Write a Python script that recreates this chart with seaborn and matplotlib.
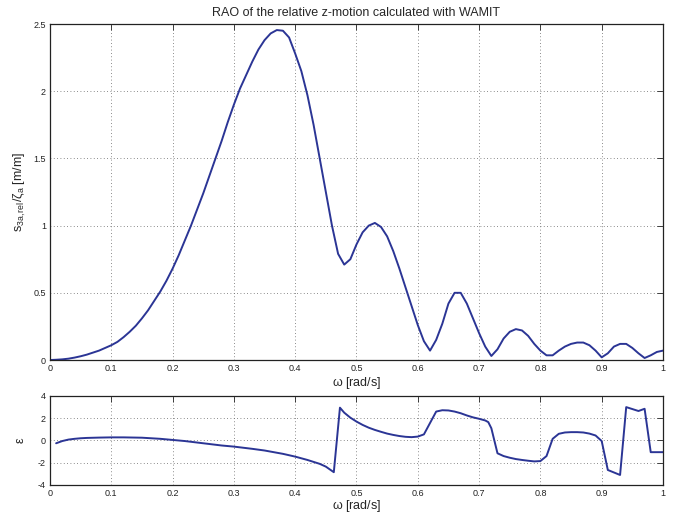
import numpy as np
import pandas as pd
import matplotlib
matplotlib.use("Agg")
import matplotlib.pyplot as plt
import seaborn as sns
from matplotlib.ticker import FuncFormatter

# ---- data ----
omega_rao = [i / 100 for i in range(101)]
rao = [0.00, 0.002, 0.005, 0.01, 0.018, 0.028, 0.04, 0.055, 0.07, 0.09,
       0.11, 0.135, 0.17, 0.21, 0.255, 0.31, 0.37, 0.44, 0.51, 0.59,
       0.68, 0.78, 0.89, 1.00, 1.12, 1.24, 1.37, 1.50, 1.63, 1.77,
       1.90, 2.02, 2.12, 2.22, 2.31, 2.38, 2.43, 2.455, 2.45, 2.40,
       2.28, 2.15, 1.97, 1.75, 1.50, 1.25, 1.00, 0.79, 0.71, 0.75,
       0.86, 0.95, 1.00, 1.02, 0.99, 0.92, 0.81, 0.68, 0.54, 0.40,
       0.26, 0.14, 0.07, 0.15, 0.27, 0.42, 0.50, 0.50, 0.42, 0.31,
       0.20, 0.10, 0.03, 0.08, 0.16, 0.21, 0.23, 0.22, 0.18, 0.12,
       0.07, 0.035, 0.035, 0.07, 0.10, 0.12, 0.13, 0.13, 0.11, 0.07,
       0.02, 0.05, 0.10, 0.12, 0.12, 0.09, 0.05, 0.015, 0.035, 0.06,
       0.07]

omega_eps = [0.01, 0.02, 0.03, 0.04, 0.05, 0.06, 0.08, 0.10, 0.12, 0.15,
             0.18, 0.20, 0.22, 0.25, 0.28, 0.30, 0.33, 0.35, 0.38, 0.40,
             0.42, 0.44, 0.45, 0.463, 0.473, 0.48, 0.49, 0.50, 0.51, 0.52,
             0.53, 0.54, 0.55, 0.56, 0.57, 0.58, 0.59, 0.60, 0.61, 0.63,
             0.64, 0.65, 0.66, 0.67, 0.68, 0.69, 0.70, 0.71, 0.715, 0.72,
             0.73, 0.74, 0.75, 0.76, 0.77, 0.78, 0.79, 0.80, 0.81, 0.82,
             0.83, 0.84, 0.85, 0.86, 0.87, 0.88, 0.89, 0.90, 0.91, 0.93,
             0.94, 0.96, 0.97, 0.98, 1.00]
eps = [-0.25, -0.05, 0.08, 0.15, 0.20, 0.23, 0.26, 0.28, 0.28, 0.25,
       0.15, 0.05, -0.05, -0.25, -0.45, -0.55, -0.75, -0.90, -1.20, -1.45,
       -1.75, -2.10, -2.35, -2.85, 2.95, 2.50, 2.05, 1.70, 1.40, 1.15,
       0.95, 0.78, 0.62, 0.50, 0.40, 0.33, 0.30, 0.35, 0.55, 2.60,
       2.72, 2.70, 2.60, 2.45, 2.25, 2.08, 1.95, 1.80, 1.65, 1.10,
       -1.15, -1.40, -1.55, -1.67, -1.75, -1.82, -1.88, -1.85, -1.40, 0.15,
       0.60, 0.72, 0.75, 0.75, 0.72, 0.62, 0.45, -0.05, -2.65, -3.10,
       3.00, 2.65, 2.85, -1.05, -1.05]

x_ticks = [i / 10 for i in range(11)]
y_ticks_top = [0, 0.5, 1, 1.5, 2, 2.5]
y_ticks_bot = [-4, -2, 0, 2, 4]

df_top = pd.DataFrame({"omega": omega_rao, "rao": rao})
df_bot = pd.DataFrame({"omega": omega_eps, "eps": eps})

# ---- style ----
sns.set_style("white")
plt.rcParams["font.family"] = ["Liberation Sans", "DejaVu Sans"]
plt.rcParams["mathtext.fontset"] = "custom"
plt.rcParams["mathtext.rm"] = "Liberation Sans"
plt.rcParams["mathtext.it"] = "Liberation Sans"

line_color = "#2b3595"

fig = plt.figure(figsize=(6.83, 5.13), dpi=100)
ax1 = fig.add_axes([0.0732, 0.2982, 0.8975, 0.655])
ax2 = fig.add_axes([0.0732, 0.0546, 0.8975, 0.1735])

sns.lineplot(data=df_top, x="omega", y="rao", ax=ax1, color=line_color,
             linewidth=1.4, estimator=None, sort=False)
sns.lineplot(data=df_bot, x="omega", y="eps", ax=ax2, color=line_color,
             linewidth=1.4, estimator=None, sort=False)

def fmt(v, pos):
    return "%g" % v

for ax, yt, ylim in [(ax1, y_ticks_top, (0, 2.5)), (ax2, y_ticks_bot, (-4, 4))]:
    ax.set_xlim(0, 1)
    ax.set_ylim(*ylim)
    ax.set_xticks(x_ticks)
    ax.set_yticks(yt)
    ax.xaxis.set_major_formatter(FuncFormatter(fmt))
    ax.yaxis.set_major_formatter(FuncFormatter(fmt))
    ax.tick_params(direction="in", length=4, width=0.6, labelsize=6.5,
                   top=True, right=True, pad=3, colors="#222222",
                   labelcolor="#222222")
    ax.grid(True, linestyle=(0, (1, 3)), color="#666666", linewidth=0.6)
    for sp in ax.spines.values():
        sp.set_visible(True)
        sp.set_color("#222222")
        sp.set_linewidth(0.9)

ax1.set_xlabel(r"$\omega$ [rad/s]", fontsize=9, labelpad=1)
ax2.set_xlabel(r"$\omega$ [rad/s]", fontsize=9, labelpad=0)
ax1.set_ylabel(r"$\mathrm{s_{3a,rel}}/\zeta_{\mathrm{a}}$ [m/m]", fontsize=9, labelpad=4)
ax2.set_ylabel(r"$\varepsilon$", fontsize=9, labelpad=8)
ax1.set_title("RAO of the relative z-motion calculated with WAMIT",
              fontsize=9, pad=6)

fig.savefig("out.png", dpi=100)
